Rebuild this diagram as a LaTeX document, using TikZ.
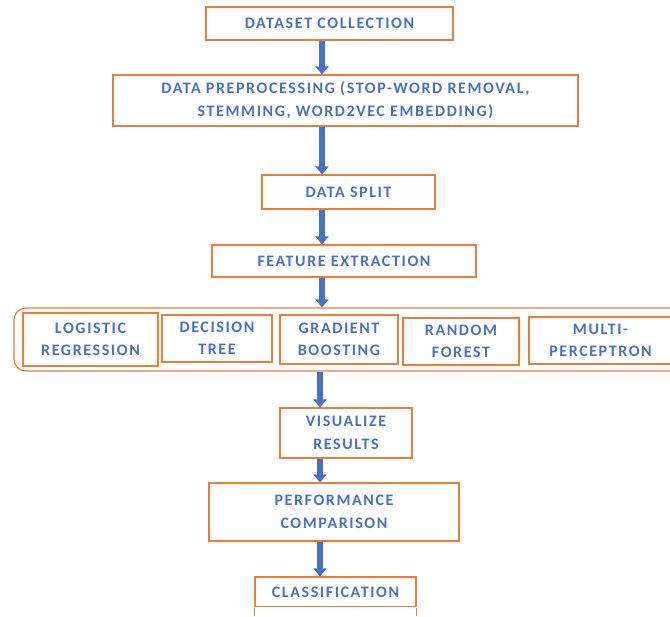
\documentclass[tikz,border=0pt]{standalone}
\usepackage{fontspec}
\setmainfont{Carlito}
\newfontfamily\boxfont[LetterSpace=10]{Carlito}
\usetikzlibrary{arrows.meta}
\definecolor{borange}{HTML}{ED7D31}
\definecolor{tblue}{HTML}{4472C4}
\definecolor{ablue}{HTML}{4472C4}
\begin{document}
\begin{tikzpicture}[x=1pt,y=-1pt,
  box/.style={draw=borange, line width=1.2pt, fill=white,
    font=\boxfont\bfseries\fontsize{16}{22.5}\selectfont, text=tblue,
    align=center, inner sep=0pt},
  arr/.style={draw=ablue, line width=6.5pt,
    -{Triangle[width=13pt,length=8pt]}}]
\useasboundingbox (0,0) rectangle (670,617);
\begin{scope}
\clip (0,0) rectangle (670,617);
\coordinate (ax) at (322,0);
\coordinate (bx) at (320,0);
\node[box, minimum width=247, minimum height=33] (b1) at (329.5,23.5) {DATASET COLLECTION};
\node[box, minimum width=465, minimum height=51] (b2) at (345.5,100.5) {DATA PREPROCESSING (STOP-WORD REMOVAL,\\STEMMING, WORD2VEC EMBEDDING)};
\node[box, minimum width=173, minimum height=34] (b3) at (348.5,192) {DATA SPLIT};
\node[box, minimum width=264, minimum height=32] (b4) at (344,261) {FEATURE EXTRACTION};
\node[box, rounded corners=12pt, minimum width=690, minimum height=63] (models) at (359,339.5) {};
\node[box, minimum width=135, minimum height=53] (m1) at (90.5,339.5) {LOGISTIC\\REGRESSION};
\node[box, minimum width=110, minimum height=47] (m2) at (217,338.5) {DECISION\\TREE};
\node[box, minimum width=118, minimum height=49] (m3) at (339,339.5) {GRADIENT\\BOOSTING};
\node[box, minimum width=116, minimum height=47] (m4) at (461,341.5) {RANDOM\\FOREST};
\node[box, minimum width=143, minimum height=47] (m5) at (600.5,340.5) {MULTI-\\PERCEPTRON};
\draw[box, fill=none] (m5.north east) -- ++(12,0) (m5.south east) -- ++(12,0);
\fill[white] ([xshift=-0.1pt,yshift=-0.6pt]m5.north east) rectangle ([xshift=0.7pt,yshift=0.6pt]m5.south east);
\node[box, minimum width=132, minimum height=50] (b5) at (346,433) {VISUALIZE\\RESULTS};
\node[box, minimum width=250, minimum height=58] (b6) at (334,512) {PERFORMANCE\\COMPARISON};
\node[box, minimum width=161, minimum height=30, text height=11pt] (b7) at (335.5,592) {CLASSIFICATION};
\draw[box, fill=none] (b7.north west) -- ++(0,40);
\draw[box, fill=none] (b7.north east) -- ++(0,40);
\fill[white] ([xshift=-0.6pt,yshift=0.6pt]b7.south west) rectangle ([xshift=0.6pt,yshift=-0.1pt]b7.south east);
\draw[arr] (b1.south -| ax) -- (b2.north -| ax);
\draw[arr] (b2.south -| ax) -- (b3.north -| ax);
\draw[arr] (b3.south -| ax) -- (b4.north -| ax);
\draw[arr] (b4.south -| ax) -- (models.north -| ax);
\draw[arr] (models.south -| bx) -- (b5.north -| bx);
\draw[arr] (b5.south -| bx) -- (b6.north -| bx);
\draw[arr] (b6.south -| bx) -- (b7.north -| bx);
\end{scope}
\end{tikzpicture}
\end{document}
